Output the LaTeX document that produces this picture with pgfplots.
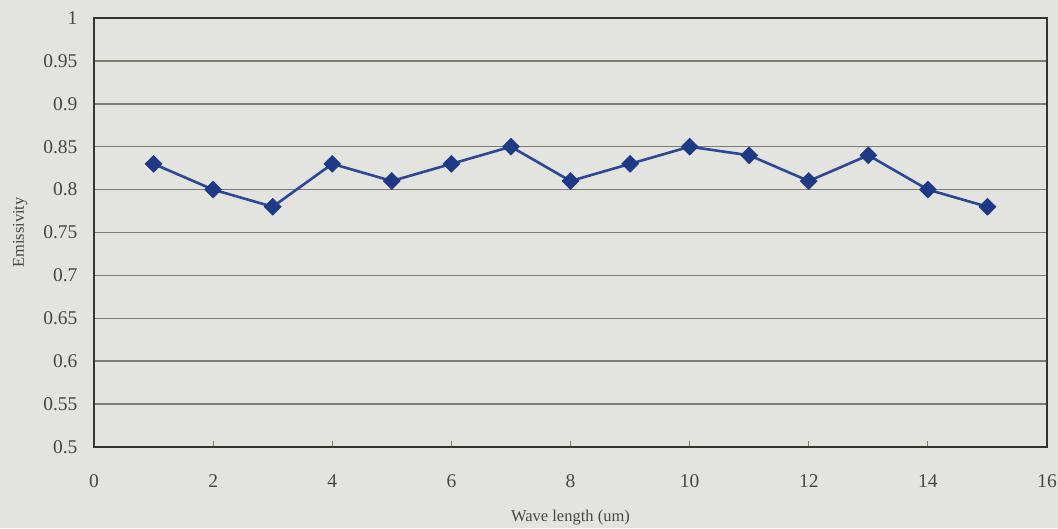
\documentclass[border=0pt]{standalone}
\usepackage{pgfplots}
\pgfplotsset{compat=1.18}
\usepackage{fontspec}
\setmainfont{Liberation Serif}

\definecolor{bg}{HTML}{E3E3DF}
\definecolor{gridc}{HTML}{7E7B70}
\definecolor{framec}{HTML}{34362C}
\definecolor{linec}{HTML}{2C4896}
\definecolor{markc}{HTML}{1E3A86}

\begin{document}
\begin{tikzpicture}[x=1pt,y=1pt]
\fill[bg] (0,0) rectangle (1058,528);
\path[use as bounding box] (0,0) rectangle (1058,528);
\begin{axis}[
    at={(94pt,81pt)}, anchor=south west,
    scale only axis,
    width=953pt, height=429pt,
    xmin=0, xmax=16, ymin=0.5, ymax=1,
    xtick={0,2,...,16},
    ytick={0.5,0.55,...,1.01},
    ymajorgrids,
    grid style={gridc, line width=1.5pt},
    axis line style={framec, line width=2.5pt},
    axis background/.style={fill=bg},
    xtick pos=bottom, tick align=inside,
    ytick style={draw=none},
    xtick style={gridc, line width=0.8pt},
    major tick length=6pt,
    tick label style={font=\fontsize{19.5}{21}\selectfont, text=black!72},
    xticklabel style={yshift=-24pt},
    yticklabel style={xshift=-13pt},
    /pgf/number format/assume math mode=true,
    xlabel={Wave length (um)},
    ylabel={Emissivity},
    label style={font=\fontsize{16.5}{18}\selectfont, text=black!72},
    xlabel style={at={(0.5,0)}, yshift=-60pt},
    ylabel style={yshift=9pt},
]
\addplot[linec, line width=2.6pt, mark=square*, mark size=6pt,
    mark options={markc, rotate=45, line width=0.5pt}]
coordinates {
(1,0.83) (2,0.80) (3,0.78) (4,0.83) (5,0.81) (6,0.83) (7,0.85) (8,0.81)
(9,0.83) (10,0.85) (11,0.84) (12,0.81) (13,0.84) (14,0.80) (15,0.78)
};
\end{axis}
\end{tikzpicture}
\end{document}
